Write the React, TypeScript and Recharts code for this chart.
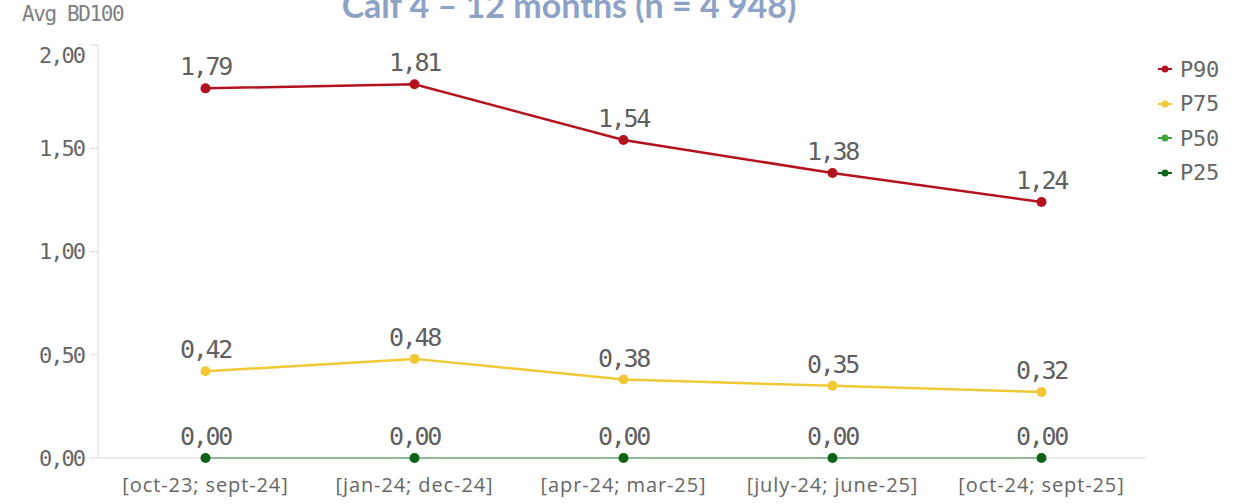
import React from 'react';
import { LineChart, Line, XAxis, YAxis, LabelList, Legend } from 'recharts';

const categories = ['[oct-23; sept-24]', '[jan-24; dec-24]', '[apr-24; mar-25]', '[july-24; june-25]', '[oct-24; sept-25]'];
const p90 = [1.79, 1.81, 1.54, 1.38, 1.24];
const p75 = [0.42, 0.48, 0.38, 0.35, 0.32];
const p50 = [0, 0, 0, 0, 0];
const p25 = [0, 0, 0, 0, 0];
const yTicks = [0, 0.5, 1, 1.5, 2];
const seriesNames = ['P90', 'P75', 'P50', 'P25'];
const seriesColors: Record<string, string> = { P90: '#b3121e', P75: '#f0c935', P50: '#3fa33f', P25: '#0a6318' };

const data = categories.map((c, i) => ({ cat: c, P90: p90[i], P75: p75[i], P50: p50[i], P25: p25[i] }));

const fmt = (v: number) => v.toFixed(2).replace('.', ',');
const MONO = '"DejaVu Sans Mono", monospace';

const LegendContent = () => (
  <div style={{ display: 'flex', flexDirection: 'column' }}>
    {seriesNames.map((n) => (
      <div key={n} style={{ display: 'flex', alignItems: 'center', height: 34.5 }}>
        <svg width={16} height={10} style={{ marginRight: 7 }}>
          <line x1={1} y1={5} x2={15} y2={5} stroke={seriesColors[n]} strokeWidth={2} />
          <circle cx={8} cy={5} r={3.5} fill={seriesColors[n]} />
        </svg>
        <span style={{ fontFamily: MONO, fontSize: 22, letterSpacing: -0.3, color: '#666' }}>{n}</span>
      </div>
    ))}
  </div>
);

const YTick = (props: any) => {
  const { x, y, payload } = props;
  const isTop = payload.value === yTicks[yTicks.length - 1];
  return (
    <text x={x} y={y + (isTop ? 10 : 0)} dy="0.355em" textAnchor="end"
      style={{ fontFamily: MONO, fontSize: 22, letterSpacing: -2, fill: '#666' }}>
      {fmt(payload.value)}
    </text>
  );
};

const labelStyle = { fontFamily: MONO, fontSize: 25, letterSpacing: -2.3, fill: '#5f5f5f' } as any;

export default function App() {
  return (
    <div style={{ position: 'absolute', left: 0, top: 0, width: 1248, height: 504, background: '#fff', overflow: 'hidden' }}>
      <div style={{ position: 'absolute', left: 22, top: 2, fontFamily: MONO, fontSize: 21, letterSpacing: -1.4, color: '#7f7f7f', lineHeight: '24px' }}>Avg BD100</div>
      <div style={{ position: 'absolute', left: 0, width: 1138, top: -15, textAlign: 'center', fontFamily: 'Lato, sans-serif', fontWeight: 700, fontSize: 34, lineHeight: '40px', color: '#8ea2c8' }}>
        Calf 4 – 12 months (n = 4 948)
      </div>
      <LineChart width={1248} height={504} data={data} margin={{ top: 45, right: 12, left: 0, bottom: 0 }}>
        <XAxis
          dataKey="cat"
          scale="band"
          height={46}
          padding={{ left: 3, right: 0 }}
          axisLine={{ stroke: '#d9d9d9' }}
          tickLine={false}
          tickMargin={14}
          tick={{ fontFamily: '"Open Sans", sans-serif', fontSize: 20, letterSpacing: 0.9, fill: '#666' }}
          interval={0}
        />
        <YAxis
          width={98}
          domain={[0, 2]}
          ticks={yTicks}
          tickFormatter={fmt}
          axisLine={{ stroke: '#d9d9d9' }}
          tickLine={{ stroke: '#d9d9d9' }}
          tickSize={8}
          tickMargin={6}
          tick={<YTick />}
        />
        <Legend
          layout="vertical"
          align="right"
          verticalAlign="top"
          content={<LegendContent />}
          wrapperStyle={{ position: 'absolute', left: 1157, top: 52, width: 90 }}
        />
        <Line dataKey="P90" stroke={seriesColors.P90} strokeWidth={2.5} isAnimationActive={false}
          dot={{ r: 5, fill: seriesColors.P90, stroke: seriesColors.P90, strokeWidth: 0 }}>
          <LabelList dataKey="P90" position="top" offset={13} formatter={fmt} style={labelStyle} />
        </Line>
        <Line dataKey="P75" stroke={seriesColors.P75} strokeWidth={2.5} isAnimationActive={false}
          dot={{ r: 5, fill: seriesColors.P75, stroke: seriesColors.P75, strokeWidth: 0 }}>
          <LabelList dataKey="P75" position="top" offset={13} formatter={fmt} style={labelStyle} />
        </Line>
        <Line dataKey="P25" stroke={seriesColors.P25} strokeWidth={2} isAnimationActive={false}
          dot={{ r: 5, fill: seriesColors.P25, stroke: seriesColors.P25, strokeWidth: 0 }}>
          <LabelList dataKey="P25" position="top" offset={13} formatter={fmt} style={labelStyle} />
        </Line>
        <Line dataKey="P50" stroke="#4c984c" strokeWidth={2} isAnimationActive={false} dot={false} />
      </LineChart>
    </div>
  );
}
